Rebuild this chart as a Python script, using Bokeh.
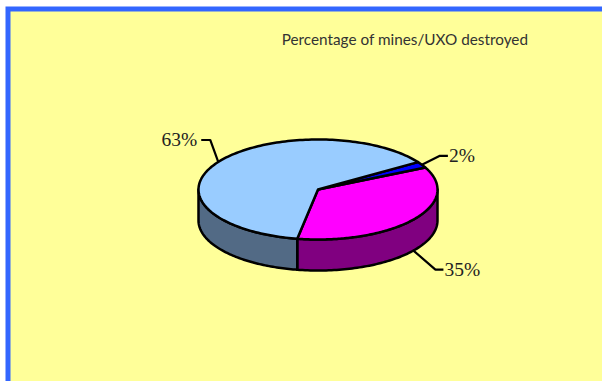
import numpy as np
from bokeh.core.properties import value
from bokeh.embed import file_html
from bokeh.models import Range1d
from bokeh.plotting import figure
from bokeh.resources import INLINE

# Chart content
title = "Percentage of mines/UXO destroyed"
slices = ["Destroyed A", "Destroyed B", "Destroyed C"]
percent = [35, 2, 63]
top_colors = ["#FF00FF", "#0000FF", "#99CCFF"]
side_colors = ["#800080", "#000080", "#526A85"]

# Pie geometry, in pixels
WIDTH, HEIGHT = 602, 381
CX, CY, RX, RY, DEPTH = 317.5, 189, 119.5, 50, 31
FIRST_ANGLE = 260.0  # the slices run anticlockwise from here

# Elbow and end of each leader relative to its rim point
leader_elbow = [(22, 19), (18, -9), (-8, -22)]
leader_run = [8, 8, -9]


def rim(deg, drop=0.0):
    a = np.radians(deg)
    return CX + RX * np.cos(a), CY - RY * np.sin(a) + drop


p = figure(width=WIDTH, height=HEIGHT, output_backend="svg", toolbar_location=None,
           x_range=Range1d(0, WIDTH), y_range=Range1d(HEIGHT, 0), min_border=0,
           background_fill_color="#FFFFFF", border_fill_color="#FFFFFF")
p.axis.visible = False
p.grid.visible = False
p.outline_line_color = None

# Page panel with its blue border on the top and left
p.quad(left=5, right=WIDTH, top=6, bottom=HEIGHT, fill_color="#3366FF", line_color=None)
p.quad(left=10, right=WIDTH, top=11, bottom=HEIGHT, fill_color="#FFFF99", line_color=None)

p.text(x=[404.5], y=[38.5], text=[title], text_font=value("Lato"), text_font_size="15.3px",
       text_color="#333333", text_align="center", text_baseline="middle")

# Slice angle ranges from the percentages
spans = []
start = FIRST_ANGLE
for v in percent:
    end = start + v * 3.6
    spans.append((start, end))
    start = end

# Side walls show only on the lower half of the rim
for (a0, a1), col in zip(spans, side_colors):
    segments = [(max(a0, 180), min(a1, 360)), (max(a0 - 360, 180), min(a1 - 360, 360))]
    for lo, hi in segments:
        if hi <= lo:
            continue
        t = np.linspace(lo, hi, 80)
        xs, ys = rim(t)
        xb, yb = rim(t[::-1], DEPTH)
        p.patch(np.r_[xs, xb], np.r_[ys, yb], fill_color=col, line_color="black",
                line_width=2.5, line_join="round")

# Top faces
for (a0, a1), col in zip(spans, top_colors):
    t = np.linspace(a0, a1, 160)
    xs, ys = rim(t)
    p.patch(np.r_[CX, xs], np.r_[CY, ys], fill_color=col, line_color="black",
            line_width=2.5, line_join="round")

# Leader lines and percentage labels
for (a0, a1), v, (ex, ey), run in zip(spans, percent, leader_elbow, leader_run):
    mid = (a0 + a1) / 2 % 360
    x0, y0 = rim(mid, DEPTH if mid > 180 else 0)
    x1, y1 = x0 + ex, y0 + ey
    x2 = x1 + run
    p.line([x0, x1, x2], [y0, y1, y1], line_color="black", line_width=2.2)
    p.text(x=[x2 + (1 if run > 0 else -4)], y=[y1 - 0.5], text=[f"{v}%"],
           text_font=value("Liberation Serif"), text_font_size="19.5px", text_color="#222222",
           text_align="left" if run > 0 else "right", text_baseline="middle")

open("out.html", "w").write(file_html(p, INLINE))
